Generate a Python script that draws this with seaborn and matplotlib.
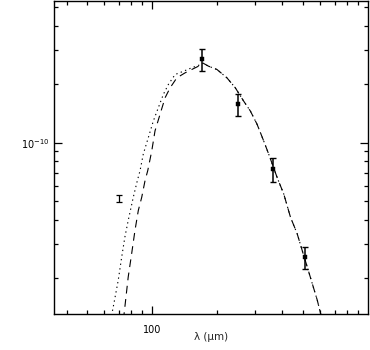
import numpy as np
import pandas as pd
import matplotlib
matplotlib.use("Agg")
import matplotlib.pyplot as plt
import matplotlib.ticker as mticker
import seaborn as sns

# photometry (wavelength in micron, flux)
wave = [170.0, 248.5, 363.0, 513.0]
flux = [2.70e-10, 1.59e-10, 7.27e-11, 2.56e-11]
err_lo = [0.36e-10, 0.215e-10, 0.98e-11, 0.35e-11]
err_hi = [0.36e-10, 0.20e-10, 1.05e-11, 0.32e-11]

# 70 micron point drawn with bar only
wave_70 = [70.0]
flux_70 = [5.16e-11]
err70_lo = [0.20e-11]
err70_hi = [0.22e-11]

# model curves
right_x = [172.1, 182.2, 199.3, 221.8, 242.5, 265.0, 284.7, 305.9, 328.3, 346.3,
           378.9, 406.7, 437.0, 469.5, 495.3, 522.5, 551.3, 581.7, 602.6, 615.5]
right_y = [2.575e-10, 2.485e-10, 2.39e-10, 2.163e-10, 1.921e-10, 1.641e-10, 1.458e-10,
           1.245e-10, 1.021e-10, 8.73e-11, 6.61e-11, 5.43e-11, 4.12e-11, 3.38e-11,
           2.77e-11, 2.28e-11, 1.87e-11, 1.534e-11, 1.31e-11, 1.18e-11]

dot_x = [64.1, 65.9, 69.5, 72.1, 74.6, 77.3, 81.6, 85.2, 87.7, 90.8, 95.8, 101.1,
         106.6, 112.5, 118.7, 127.5, 139.4, 152.5, 163.7] + right_x
dot_y = [1.21e-11, 1.416e-11, 1.944e-11, 2.56e-11, 3.25e-11, 3.96e-11, 5.22e-11,
         6.36e-11, 7.16e-11, 8.73e-11, 1.062e-10, 1.295e-10, 1.516e-10, 1.777e-10,
         2.00e-10, 2.25e-10, 2.34e-10, 2.44e-10, 2.51e-10] + right_y

dash_x = [73.4, 74.6, 77.3, 80.2, 83.1, 86.1, 89.3, 92.5, 95.2, 99.4, 102.9, 108.6,
          114.6, 120.9, 129.9, 141.9, 152.5, 166.7] + right_x
dash_y = [1.21e-11, 1.416e-11, 2.02e-11, 2.67e-11, 3.52e-11, 4.46e-11, 5.22e-11,
          6.36e-11, 7.16e-11, 9.07e-11, 1.15e-10, 1.402e-10, 1.707e-10, 1.921e-10,
          2.163e-10, 2.296e-10, 2.39e-10, 2.51e-10] + right_y

dot_df = pd.DataFrame({"wave": dot_x, "flux": dot_y})
dash_df = pd.DataFrame({"wave": dash_x, "flux": dash_y})
pts_df = pd.DataFrame({"wave": wave, "flux": flux})

sns.set_style("ticks")
plt.rcParams["font.family"] = ["DejaVu Sans"]

fig = plt.figure(figsize=(3.7, 3.5), dpi=100)
ax = fig.add_axes([54 / 370, 36 / 350, 314 / 370, 313 / 350])

sns.lineplot(data=dot_df, x="wave", y="flux", sort=False, estimator=None,
             color="black", lw=0.8, ax=ax).lines[-1].set_dashes((1.2, 3.0))
sns.lineplot(data=dash_df, x="wave", y="flux", sort=False, estimator=None,
             color="black", lw=0.8, ax=ax).lines[-1].set_dashes((7, 5))

ax.errorbar(wave, flux, yerr=[err_lo, err_hi], fmt="none", ecolor="black",
            elinewidth=1.1, capsize=2.2, capthick=1.0)
sns.scatterplot(data=pts_df, x="wave", y="flux", marker="s", s=12,
                color="black", edgecolor="black", linewidth=0.3, ax=ax, zorder=5)
ax.errorbar(wave_70, flux_70, yerr=[err70_lo, err70_hi], fmt="none",
            ecolor="black", elinewidth=0.9, capsize=2.0, capthick=0.9)

ax.set_xscale("log")
ax.set_yscale("log")
ax.set_xlim(35, 1000)
ax.set_ylim(1.3e-11, 5.4e-10)

ax.xaxis.set_major_locator(mticker.FixedLocator([100]))
ax.xaxis.set_major_formatter(mticker.FixedFormatter(["100"]))
ax.xaxis.set_minor_locator(mticker.LogLocator(base=10, subs=np.arange(2, 10)))
ax.xaxis.set_minor_formatter(mticker.NullFormatter())
ax.yaxis.set_major_locator(mticker.FixedLocator([1e-10]))
ax.yaxis.set_major_formatter(mticker.FixedFormatter([r"$10^{-10}$"]))
ax.yaxis.set_minor_locator(mticker.LogLocator(base=10, subs=np.arange(2, 10)))
ax.yaxis.set_minor_formatter(mticker.NullFormatter())

ax.tick_params(which="both", direction="in", top=True, right=True,
               width=0.9, labelsize=7, colors="black")
ax.tick_params(which="major", length=5.5)
ax.tick_params(which="minor", length=3.2)
ax.tick_params(axis="x", which="major", pad=8)
ax.tick_params(axis="y", which="major", pad=3)

for s in ax.spines.values():
    s.set_linewidth(1.0)
    s.set_color("black")

ax.set_xlabel("λ (μm)", fontsize=7.5)
ax.xaxis.set_label_coords(0.5, -0.073)
ax.xaxis.label.set_va("center")
ax.set_ylabel("")

fig.savefig("out.png", dpi=100)
